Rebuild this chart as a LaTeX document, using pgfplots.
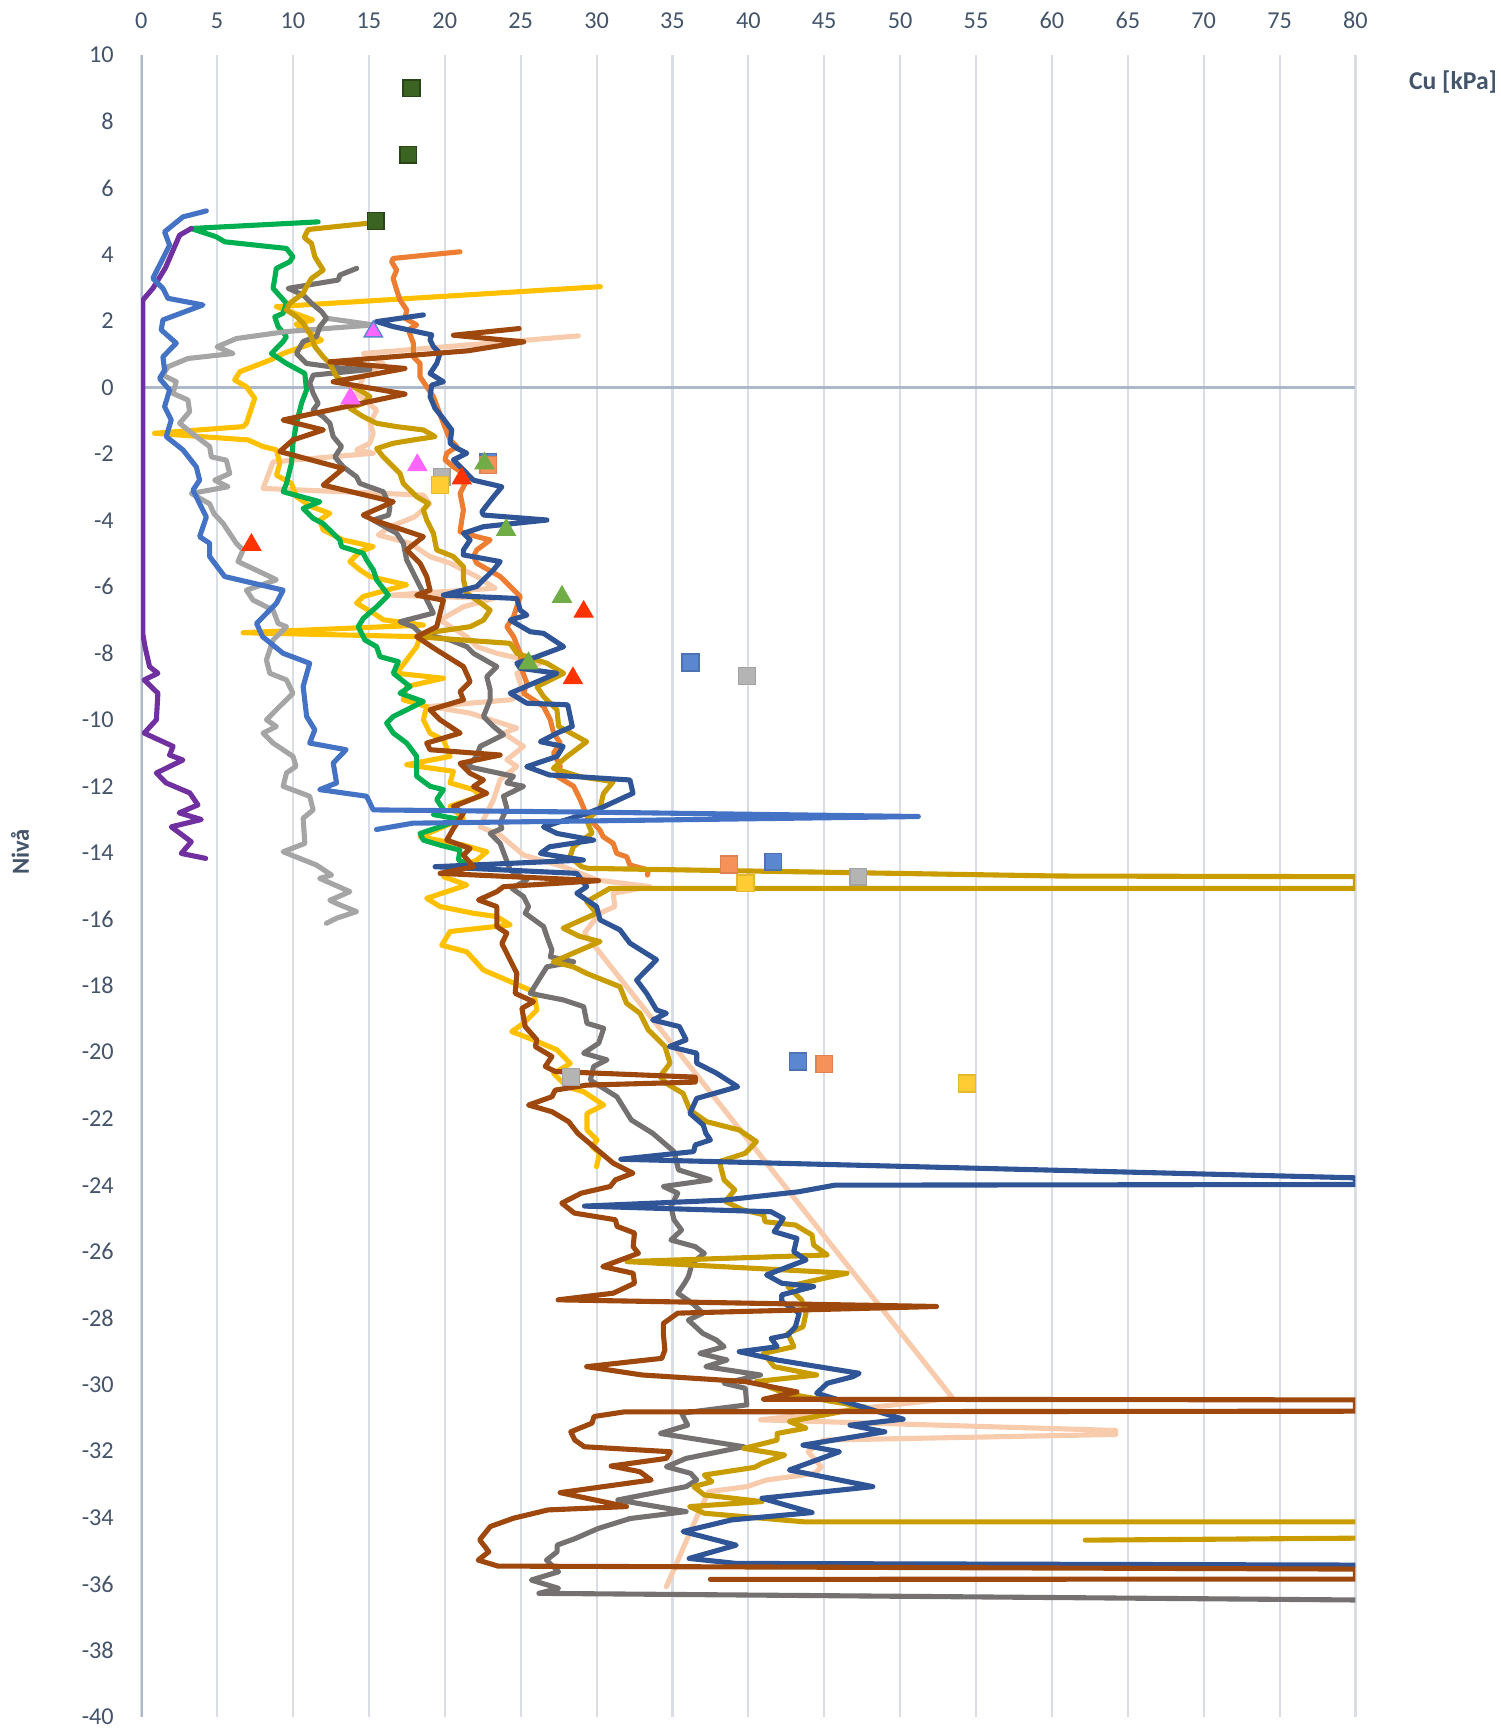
\documentclass[border=0pt]{standalone}
\usepackage{pgfplots}
\pgfplotsset{compat=1.18}
\usepackage{fontspec}
\setmainfont{Carlito}
\definecolor{txt}{HTML}{44546A}
\definecolor{gridc}{HTML}{D9DEE6}
\definecolor{axc}{HTML}{ADB9CA}
\definecolor{cpurple}{HTML}{7030A0}
\definecolor{cmblue}{HTML}{4472C4}
\definecolor{clgray}{HTML}{A5A5A5}
\definecolor{cgreen}{HTML}{00B050}
\definecolor{cyellow}{HTML}{FFC000}
\definecolor{corange}{HTML}{ED7D31}
\definecolor{cdblue}{HTML}{2F5597}
\definecolor{cbrown}{HTML}{9E480E}
\definecolor{cpeach}{HTML}{F8CBAD}
\definecolor{cdgray}{HTML}{767171}
\definecolor{cgold}{HTML}{C99C00}
\definecolor{cdgreen}{HTML}{3B6321}
\definecolor{cpink}{HTML}{FF66FF}
\definecolor{cred}{HTML}{FF3300}
\definecolor{cgtri}{HTML}{70AD47}
\definecolor{cbsq}{HTML}{5B86D0}
\definecolor{cosq}{HTML}{F4925A}
\definecolor{cgsq}{HTML}{B4B4B4}
\definecolor{cysq}{HTML}{FFCC33}
\begin{document}
\begin{tikzpicture}
\useasboundingbox (-1.412cm,-0.12cm) rectangle (13.598cm,17.17cm);
\begin{axis}[at={(0,0)}, anchor=south west, scale only axis,
 width=12.143cm, height=16.62cm,
 xmin=0, xmax=80, ymin=-40, ymax=10,
 axis line style={draw=none}, tick style={draw=none},
 xtick={0,5,10,15,20,25,30,35,40,45,50,55,60,65,70,75,80},
 xticklabels={0,5,10,15,20,25,30,35,40,45,50,55,60,65,70,75,80},
 ytick={-40,-38,-36,-34,-32,-30,-28,-26,-24,-22,-20,-18,-16,-14,-12,-10,-8,-6,-4,-2,0,2,4,6,8,10},
 yticklabels={-40,-38,-36,-34,-32,-30,-28,-26,-24,-22,-20,-18,-16,-14,-12,-10,-8,-6,-4,-2,0,2,4,6,8,10},
 xticklabel pos=right,
 xmajorgrids, grid style={gridc, line width=0.6pt},
 ticklabel style={font=\fontsize{6.9}{8}\selectfont, text=txt},
 xticklabel style={yshift=0.14cm},
 yticklabel style={xshift=-0.15cm},
 ln/.style={line width=1.45pt, line join=round, line cap=round, mark=none},
 sq/.style={only marks, mark=square*, mark size=2.4pt},
 tri/.style={only marks, mark=triangle*, mark size=3pt},
]
\draw[axc, line width=0.8pt] (axis cs:0,0) -- (axis cs:80,0);
\draw[axc, line width=0.8pt] (axis cs:0,-40) -- (axis cs:0,10);

% peach
\addplot[ln, cpeach] coordinates {(28.8,1.55)(14.63,1.02)(15.95,0.72)(14.63,0.32)(14.19,-0.18)(15.51,-0.68)(15.07,-1.08)(15.29,-1.38)(15.07,-1.68)(14.19,-1.88)(15.29,-1.98)(8.69,-2.24)(8.03,-3.04)(18.59,-3.24)(19.0,-3.5)(18.0,-3.9)(16.39,-4.19)(15.62,-4.44)(17.71,-4.69)(19.03,-5.09)(20.35,-5.29)(21.01,-5.44)(22.11,-5.69)(23.32,-6.04)(16.5,-6.25)(23.2,-6.35)(21.23,-6.6)(19.69,-7.0)(21.45,-7.5)(22.11,-7.8)(23.43,-8.0)(26.29,-8.3)(24.75,-8.6)(25.19,-9.2)(24.31,-9.4)(19.03,-9.6)(21.67,-9.8)(24.75,-10.25)(23.87,-10.4)(25.19,-10.8)(24.09,-11.2)(24.75,-11.4)(23.65,-11.8)(23.21,-12.4)(22.55,-13.0)(22.33,-13.22)(23.65,-13.47)(25.19,-14.07)(27.83,-14.42)(30.03,-14.82)(33.5,-15.02)(31.1,-15.22)(31.2,-15.62)(30.2,-15.82)(29.2,-16.42)(53.47,-30.41)(40.8,-31.06)(64.2,-31.38)(64.2,-31.5)(44.95,-31.67)(43.94,-32.02)(44.8,-32.47)(44.4,-32.67)(41.2,-32.87)(39.9,-33.07)(37.4,-33.22)(36.9,-33.67)(34.6,-36.08)};

% yellow
\addplot[ln, cyellow] coordinates {(30.25,3.03)(8.91,2.43)(11.3,2.03)(10.2,1.9)(11.88,1.42)(9.35,1.02)(8.47,0.82)(6.49,0.47)(6.16,0.22)(6.93,0.02)(7.48,-0.33)(6.93,-1.08)(6.71,-1.18)(0.88,-1.38)(7.04,-1.58)(8.03,-1.78)(8.91,-1.88)(9.13,-2.29)(8.91,-2.64)(9.9,-2.89)(10.23,-3.29)(11.22,-3.59)(12.43,-3.79)(11.77,-3.99)(11.99,-4.29)(12.87,-4.49)(13.31,-4.59)(15.29,-4.79)(14.41,-4.94)(13.75,-5.24)(14.41,-5.49)(15.07,-5.69)(17.49,-5.94)(14.63,-6.29)(14.19,-6.49)(15.29,-6.79)(15.95,-6.99)(18.59,-7.15)(6.71,-7.38)(18.37,-7.5)(18.15,-7.8)(17.49,-8.2)(16.83,-8.6)(19.91,-8.75)(17.49,-9.0)(17.27,-9.4)(18.81,-9.6)(18.59,-10.0)(19.03,-10.4)(19.91,-10.6)(20.35,-11.1)(17.49,-11.35)(20.57,-11.55)(20.35,-11.9)(21.89,-12.1)(22.33,-12.3)(20.35,-12.6)(21.23,-12.96)(19.5,-13.3)(18.37,-13.52)(21.23,-13.77)(22.77,-13.97)(22.11,-14.22)(19.91,-14.72)(21.45,-14.97)(18.81,-15.37)(19.69,-15.62)(21.89,-15.82)(23.43,-15.92)(24.31,-16.17)(20.35,-16.37)(19.8,-16.78)(21.45,-16.98)(22.55,-17.53)(24.09,-17.83)(25.85,-18.18)(26.07,-18.73)(25.19,-19.13)(24.41,-19.38)(25.85,-19.63)(27.39,-19.93)(28.27,-20.34)(27.17,-20.64)(28.05,-21.04)(29.15,-21.19)(30.47,-21.59)(29.37,-21.84)(29.37,-22.34)(30.03,-22.64)(29.7,-22.84)(30.2,-23.04)(30.0,-23.44)};

% green
\addplot[ln, cgreen] coordinates {(11.66,4.98)(3.3,4.78)(4.95,4.53)(5.5,4.38)(9.57,4.18)(10.0,3.93)(9.79,3.78)(8.9,3.58)(8.8,3.28)(8.69,2.98)(9.57,2.53)(9.35,2.23)(8.8,2.12)(9.02,1.83)(9.57,1.53)(9.35,1.38)(8.58,1.02)(9.57,0.72)(10.78,0.42)(10.89,-0.08)(10.56,-0.48)(10.23,-1.08)(10.0,-1.68)(9.9,-2.28)(9.57,-2.89)(9.35,-3.14)(11.77,-3.44)(10.67,-3.64)(11.33,-3.94)(11.99,-4.1)(13.09,-4.59)(13.2,-4.79)(14.63,-4.99)(14.85,-5.19)(15.29,-5.49)(15.51,-5.79)(16.28,-6.25)(15.51,-6.6)(14.63,-6.95)(14.3,-7.2)(14.74,-7.6)(15.51,-7.8)(15.73,-8.1)(16.94,-8.25)(16.61,-8.6)(17.71,-9.0)(17.05,-9.2)(18.59,-9.45)(16.61,-9.9)(16.17,-10.1)(16.61,-10.4)(17.49,-10.7)(18.15,-11.1)(18.15,-11.7)(19.03,-12.0)(19.91,-12.1)(19.47,-12.4)(19.91,-12.7)(19.25,-12.85)(21.0,-13.0)(19.69,-13.22)(18.37,-13.42)(18.59,-13.62)(19.69,-13.77)(21.0,-13.92)(20.9,-14.22)(21.45,-14.32)};

% orange
\addplot[ln, corange] coordinates {(21.0,4.08)(16.6,3.88)(16.5,3.78)(16.83,3.53)(16.6,3.28)(16.83,2.93)(17.05,2.63)(17.49,2.33)(17.38,2.08)(18.15,1.88)(17.6,1.73)(17.93,1.33)(17.93,0.92)(18.37,0.72)(18.37,0.32)(18.81,0.02)(19.25,-0.28)(19.58,-0.68)(19.91,-1.08)(20.35,-1.58)(20.79,-1.78)(20.13,-1.98)(20.02,-2.18)(20.57,-2.39)(21.23,-2.59)(21.34,-2.89)(21.01,-3.19)(21.23,-3.69)(21.12,-3.99)(21.01,-4.34)(22.11,-4.49)(22.99,-4.59)(22.11,-4.89)(21.89,-5.09)(22.11,-5.29)(23.65,-5.69)(24.53,-6.09)(24.97,-6.29)(24.53,-6.9)(24.09,-7.2)(24.53,-7.5)(24.97,-8.0)(25.08,-8.5)(25.41,-8.9)(25.19,-9.2)(26.51,-9.6)(26.95,-10.0)(27.17,-10.4)(27.61,-10.7)(27.17,-11.0)(27.61,-11.4)(27.39,-11.7)(28.49,-12.0)(28.92,-12.4)(29.37,-12.9)(30.22,-13.32)(30.44,-13.52)(31.1,-13.72)(31.33,-14.02)(31.98,-14.12)(32.2,-14.37)(33.41,-14.52)(33.35,-14.67)};

% light gray
\addplot[ln, clgray] coordinates {(12.2,2.08)(15.3,1.88)(9.57,1.68)(6.27,1.47)(5.0,1.22)(6.05,1.02)(3.08,0.87)(1.76,0.62)(1.43,0.37)(2.31,0.17)(2.09,-0.18)(3.08,-0.38)(3.19,-0.73)(2.53,-1.08)(3.63,-1.48)(4.51,-1.78)(4.62,-2.09)(5.61,-2.19)(5.83,-2.59)(4.84,-2.79)(5.72,-2.99)(3.3,-3.19)(4.5,-3.5)(4.8,-3.8)(5.39,-4.09)(6.27,-4.69)(6.71,-4.89)(6.38,-5.24)(8.47,-5.69)(8.9,-5.79)(6.93,-6.1)(7.37,-6.4)(8.69,-6.7)(9.02,-7.1)(9.57,-7.2)(8.69,-7.6)(8.25,-8.2)(8.47,-8.6)(9.57,-8.8)(10.0,-9.2)(8.9,-9.7)(8.25,-10.0)(8.9,-10.2)(8.03,-10.4)(8.69,-10.7)(10.0,-11.1)(10.2,-11.4)(9.57,-11.6)(9.35,-12.0)(11.1,-12.3)(11.33,-12.71)(10.67,-12.96)(10.78,-13.72)(9.35,-13.97)(11.55,-14.37)(12.54,-14.67)(11.76,-14.77)(13.75,-15.17)(12.43,-15.43)(13.09,-15.57)(14.19,-15.77)(12.87,-15.97)(12.21,-16.12)};

% purple
\addplot[ln, cpurple] coordinates {(3.3,4.78)(2.53,4.58)(1.6,3.6)(0.77,2.98)(0.11,2.63)(0.1,-7.4)(0.25,-7.8)(0.55,-8.4)(1.1,-8.6)(0.2,-8.8)(1.1,-9.2)(1.0,-10.0)(0.2,-10.4)(2.1,-10.8)(1.87,-11.06)(2.75,-11.21)(1.0,-11.6)(1.65,-11.9)(3.2,-12.2)(3.74,-12.56)(2.5,-12.8)(3.96,-13.0)(1.98,-13.22)(3.3,-13.67)(2.64,-14.02)(4.25,-14.17)};

% dark gray
\addplot[ln, cdgray] coordinates {(14.19,3.58)(13.09,3.38)(12.98,3.23)(9.68,2.98)(10.67,2.78)(11.22,2.53)(11.88,2.28)(12.21,2.08)(11.77,1.83)(11.55,1.53)(10.67,1.38)(10.23,1.02)(10.89,0.72)(13.31,0.57)(15.07,0.54)(11.33,0.37)(11.11,0.12)(11.33,-0.18)(11.66,-0.48)(11.33,-0.68)(11.99,-0.88)(12.43,-1.08)(12.65,-1.48)(13.2,-1.78)(12.76,-2.09)(13.31,-2.39)(14.19,-2.69)(14.41,-2.89)(15.95,-3.14)(16.39,-3.59)(16.3,-3.84)(15.29,-3.99)(16.83,-4.39)(17.27,-4.69)(17.49,-5.19)(17.93,-5.59)(18.37,-5.99)(18.81,-6.39)(19.25,-6.79)(17.05,-7.05)(17.93,-7.2)(18.37,-7.4)(20.35,-7.6)(21.45,-7.8)(21.89,-8.0)(23.43,-8.4)(22.77,-8.7)(22.99,-9.1)(22.99,-9.4)(22.55,-9.9)(23.21,-10.2)(23.87,-10.45)(22.33,-10.8)(22.11,-11.1)(21.45,-11.4)(24.53,-11.7)(24.09,-11.9)(25.19,-12.0)(23.87,-12.3)(24.09,-12.66)(23.65,-13.1)(23.76,-13.27)(22.99,-13.42)(23.65,-13.72)(24.31,-14.52)(25.41,-14.82)(24.42,-15.07)(25.19,-15.32)(25.52,-15.62)(25.3,-15.82)(26.51,-16.22)(26.73,-16.52)(27.06,-16.93)(26.95,-17.13)(28.49,-17.28)(26.73,-17.43)(25.63,-18.23)(27.83,-18.43)(29.15,-18.63)(29.37,-19.13)(30.47,-19.28)(30.14,-19.73)(29.15,-20.03)(30.69,-20.23)(29.81,-20.43)(29.59,-20.84)(31.34,-21.34)(32.29,-22.04)(33.7,-22.44)(35.1,-22.99)(35.4,-23.54)(37.5,-23.84)(34.4,-24.04)(35.35,-24.24)(34.9,-24.64)(35.1,-25.04)(35.6,-25.35)(34.9,-25.65)(36.5,-25.85)(37.1,-26.05)(36.3,-26.35)(36.05,-26.75)(35.8,-26.95)(35.35,-27.25)(36.3,-27.55)(37.0,-27.85)(36.05,-28.06)(37.0,-28.46)(37.9,-28.66)(38.4,-28.86)(36.8,-29.06)(38.6,-29.26)(37.2,-29.46)(40.8,-29.71)(38.4,-29.96)(39.8,-30.11)(39.9,-30.61)(35.6,-30.86)(36.0,-31.22)(34.2,-31.47)(39.7,-31.87)(35.9,-32.22)(34.6,-32.47)(36.2,-32.67)(36.6,-32.87)(35.9,-33.07)(31.4,-33.47)(35.9,-33.82)(32.2,-34.03)(30.1,-34.33)(28.6,-34.63)(27.4,-34.83)(27.4,-35.03)(26.7,-35.28)(27.5,-35.63)(25.7,-35.88)(27.5,-36.13)(26.2,-36.28)(80,-36.48)};

% gold
\addplot[ln, cgold] coordinates {(15.4,4.96)(11.0,4.75)(10.74,4.51)(11.22,4.33)(11.44,3.93)(11.99,3.53)(11.22,3.28)(10.89,3.03)(10.67,2.83)(9.79,2.53)(9.57,2.33)(10.23,2.13)(10.67,1.93)(11.11,1.63)(11.44,1.23)(11.99,0.92)(12.43,0.72)(12.87,0.32)(13.53,0.12)(14.41,-0.08)(15.07,-0.28)(14.63,-0.48)(13.75,-0.63)(14.63,-0.88)(15.51,-1.08)(16.83,-1.18)(18.59,-1.28)(19.36,-1.48)(17.93,-1.58)(16.61,-1.68)(15.51,-1.84)(15.95,-2.09)(16.61,-2.39)(17.05,-2.59)(17.27,-2.89)(18.15,-3.29)(18.92,-3.49)(18.59,-3.69)(18.81,-3.99)(19.25,-4.39)(19.47,-4.89)(20.57,-5.09)(21.23,-5.39)(21.23,-5.79)(21.45,-6.19)(22.11,-6.4)(22.99,-6.7)(22.55,-7.0)(21.67,-7.2)(18.59,-7.4)(18.15,-7.5)(24.31,-7.7)(24.75,-8.0)(26.73,-8.3)(27.83,-8.6)(26.07,-9.0)(26.51,-9.3)(27.39,-9.7)(27.5,-10.2)(29.35,-10.66)(28.03,-11.11)(27.15,-11.46)(28.9,-11.71)(31.1,-11.86)(30.45,-12.22)(30.23,-12.67)(29.35,-13.02)(29.7,-13.41)(28.47,-13.82)(28.25,-14.12)(29.02,-14.42)(29.45,-14.47)(60.5,-14.7)(80,-14.72)(80,-15.07)(30.88,-15.07)(29.35,-15.47)(30.0,-15.82)(27.8,-16.27)(28.9,-16.52)(30.23,-16.67)(27.15,-17.28)(28.47,-17.43)(29.35,-17.63)(31.54,-18.03)(31.98,-18.53)(32.86,-18.83)(33.41,-19.33)(34.51,-19.83)(34.84,-20.33)(34.18,-20.73)(34.6,-20.94)(35.7,-21.24)(36.15,-21.74)(37.25,-22.09)(39.4,-22.34)(40.53,-22.69)(39.8,-23.04)(38.1,-23.29)(38.4,-23.84)(39.1,-24.14)(38.5,-24.49)(39.6,-24.74)(41.0,-24.89)(41.1,-25.1)(43.1,-25.2)(44.2,-25.5)(44.3,-25.8)(45.2,-26.1)(32.0,-26.3)(46.5,-26.65)(44.5,-26.85)(42.6,-27.05)(43.5,-27.45)(43.8,-27.85)(43.6,-28.26)(42.6,-28.46)(43.0,-28.86)(41.0,-29.06)(41.7,-29.46)(44.5,-29.71)(40.5,-29.91)(42.4,-30.26)(47.7,-30.68)(42.7,-31.11)(43.8,-31.31)(41.9,-31.47)(41.9,-31.67)(39.7,-31.92)(42.4,-32.12)(40.9,-32.37)(40.4,-32.49)(37.1,-32.72)(37.6,-32.92)(36.4,-33.07)(37.1,-33.32)(40.9,-33.52)(36.13,-33.67)(37.1,-33.87)(43.7,-34.13)(80,-34.13)};
\addplot[ln, cgold] coordinates {(62.2,-34.68)(80,-34.62)};

% dark blue
\addplot[ln, cdblue] coordinates {(18.59,2.18)(15.51,1.98)(16.6,1.83)(19.14,1.58)(19.03,1.43)(19.25,1.23)(19.69,1.02)(19.47,0.72)(19.03,0.42)(19.91,0.17)(19.14,0.07)(19.03,-0.28)(19.36,-0.63)(19.8,-0.88)(20.13,-1.08)(20.46,-1.28)(20.35,-1.68)(20.79,-1.83)(21.45,-1.98)(20.57,-2.18)(21.89,-2.79)(23.76,-2.99)(23.21,-3.29)(22.44,-3.74)(22.55,-3.84)(26.73,-3.99)(22.55,-4.19)(21.23,-4.39)(21.67,-4.59)(21.23,-4.89)(21.23,-5.04)(23.65,-5.24)(23.21,-5.49)(22.55,-5.79)(22.11,-5.99)(19.91,-6.25)(24.75,-6.35)(24.97,-6.7)(25.41,-6.85)(24.31,-7.0)(25.63,-7.35)(26.51,-7.4)(27.83,-7.8)(26.07,-8.1)(24.75,-8.3)(24.97,-8.45)(27.39,-8.6)(24.31,-9.2)(25.4,-9.5)(28.1,-9.55)(28.4,-10.2)(27.4,-10.4)(26.3,-10.66)(27.8,-10.8)(27.4,-11.1)(25.4,-11.41)(26.9,-11.66)(32.2,-11.81)(32.4,-12.21)(30.45,-12.62)(29.35,-12.82)(26.5,-13.22)(27.4,-13.42)(29.8,-13.62)(26.9,-13.82)(26.3,-14.02)(29.13,-14.22)(19.36,-14.42)(28.7,-14.62)(29.35,-15.02)(28.7,-15.22)(29.35,-15.42)(30.0,-15.62)(30.23,-16.02)(31.54,-16.32)(32.2,-16.72)(33.95,-17.22)(32.64,-17.83)(33.3,-18.23)(33.95,-18.73)(34.6,-18.83)(33.7,-19.03)(35.46,-19.23)(35.9,-19.63)(34.8,-19.83)(36.6,-20.03)(36.6,-20.33)(37.9,-20.63)(39.3,-21.04)(36.6,-21.39)(36.15,-21.84)(37.03,-22.19)(37.2,-22.44)(37.5,-22.64)(36.5,-22.79)(36.4,-22.99)(31.6,-23.22)(80,-23.78)(80,-23.98)(45.7,-24.0)(43.3,-24.2)(38.4,-24.45)(29.2,-24.63)(41.5,-24.8)(42.3,-25.0)(41.7,-25.4)(43.2,-25.6)(42.99,-26.0)(43.8,-26.25)(41.2,-26.7)(42.2,-26.95)(44.3,-27.05)(42.2,-27.3)(42.2,-27.5)(43.35,-27.85)(43.1,-28.26)(42.6,-28.51)(41.5,-28.61)(41.9,-28.86)(39.4,-29.01)(41.9,-29.26)(47.3,-29.66)(46.9,-29.76)(45.2,-29.96)(44.5,-30.26)(50.2,-31.04)(46.7,-31.22)(48.99,-31.42)(43.6,-31.82)(46.0,-32.02)(42.7,-32.57)(48.2,-33.07)(40.9,-33.42)(44.2,-33.85)(38.9,-34.07)(35.7,-34.42)(39.2,-34.83)(36.1,-35.23)(39.2,-35.38)(80,-35.43)};

% brown
\addplot[ln, cbrown] coordinates {(24.9,1.77)(20.57,1.57)(25.2,1.37)(21.5,1.1)(12.43,0.77)(17.38,0.57)(12.65,0.17)(17.38,-0.2)(9.35,-0.98)(12.0,-1.28)(10.0,-1.58)(9.13,-1.93)(13.31,-2.44)(11.99,-2.94)(16.61,-3.44)(14.63,-3.84)(15.29,-3.99)(18.59,-4.49)(17.49,-4.89)(18.37,-5.29)(18.81,-5.69)(19.03,-6.1)(18.15,-6.25)(19.91,-6.4)(19.47,-7.2)(18.15,-7.5)(19.47,-7.9)(21.23,-8.4)(21.67,-8.85)(21.01,-9.15)(21.23,-9.4)(19.03,-9.7)(19.69,-10.0)(21.01,-10.4)(18.81,-10.7)(19.03,-10.9)(23.65,-11.06)(21.01,-11.31)(21.67,-11.61)(22.55,-11.81)(21.89,-12.01)(22.77,-12.21)(20.57,-12.61)(21.23,-12.81)(20.57,-13.27)(20.13,-13.62)(21.67,-13.87)(21.23,-14.07)(21.89,-14.42)(19.69,-14.62)(30.13,-14.84)(23.87,-15.02)(23.43,-15.17)(22.22,-15.42)(23.43,-15.62)(23.43,-16.22)(24.09,-16.42)(23.76,-16.73)(24.31,-17.23)(24.75,-17.63)(24.64,-18.23)(25.85,-18.48)(25.08,-18.68)(25.3,-19.23)(26.07,-19.63)(25.96,-19.83)(27.06,-20.13)(26.62,-20.43)(27.28,-20.58)(36.5,-20.75)(36.5,-20.9)(29.35,-20.99)(27.28,-21.14)(27.06,-21.34)(25.52,-21.59)(27.06,-21.79)(28.16,-22.09)(28.76,-22.44)(29.93,-22.89)(31.1,-23.34)(32.4,-23.64)(31.24,-23.84)(30.9,-24.04)(29.0,-24.24)(27.71,-24.54)(28.53,-24.84)(31.24,-25.04)(31.35,-25.24)(32.5,-25.44)(32.41,-25.85)(32.76,-26.05)(30.41,-26.45)(32.41,-26.65)(32.5,-26.95)(31.1,-27.25)(27.47,-27.45)(52.4,-27.65)(35.35,-27.85)(34.4,-28.16)(34.4,-28.46)(34.5,-28.96)(34.3,-29.21)(29.35,-29.46)(32.99,-29.71)(39.8,-29.91)(43.2,-30.22)(41.0,-30.44)(80,-30.46)(80,-30.8)(31.84,-30.82)(29.83,-30.96)(29.7,-31.16)(28.3,-31.42)(28.57,-31.67)(29.2,-31.87)(34.87,-32.02)(34.6,-32.22)(30.96,-32.45)(32.85,-32.62)(33.6,-32.87)(27.6,-33.25)(31.97,-33.67)(26.8,-33.77)(24.53,-34.02)(23.0,-34.27)(22.3,-34.67)(22.9,-35.03)(22.2,-35.28)(23.5,-35.46)(80,-35.55)(80,-35.85)(37.5,-35.86)};

% medium blue
\addplot[ln, cmblue] coordinates {(4.29,5.31)(2.75,5.13)(1.54,4.68)(1.87,4.28)(0.77,3.28)(1.43,2.98)(1.76,2.68)(4.07,2.48)(1.43,2.03)(1.32,1.73)(2.31,1.33)(1.43,0.92)(1.54,0.52)(1.21,0.27)(1.87,-0.08)(1.54,-0.58)(1.98,-0.98)(1.65,-1.48)(2.75,-1.88)(3.63,-2.39)(3.85,-2.79)(3.41,-3.09)(3.8,-3.45)(4.29,-3.9)(3.85,-4.49)(4.51,-4.69)(4.51,-5.09)(5.5,-5.69)(9.35,-6.1)(8.9,-6.5)(7.6,-7.1)(8.0,-7.5)(9.35,-8.0)(11.1,-8.3)(10.67,-9.0)(10.9,-9.9)(11.44,-10.3)(11.1,-10.7)(13.5,-10.9)(12.65,-11.3)(12.87,-11.9)(11.76,-12.1)(14.85,-12.3)(15.29,-12.71)(30,-12.78)(51.2,-12.91)(30,-13.04)(17.9,-13.11)(15.5,-13.3)};

% markers
\addplot[sq, draw=cdgreen!70!black, fill=cdgreen] coordinates {(17.8,9.0)(17.6,7.0)(15.45,5.0)};
\addplot[tri, draw=cbsq, fill=cpink] coordinates {(15.29,1.68)};
\addplot[tri, draw=cpink, fill=cpink] coordinates {(13.79,-0.33)(18.19,-2.34)};
\addplot[sq, draw=cbsq!85!black, fill=cbsq] coordinates {(22.87,-2.25)(36.19,-8.28)(41.64,-14.27)(43.28,-20.28)};
\addplot[sq, draw=cosq!90!black, fill=cosq] coordinates {(22.87,-2.34)(38.72,-14.35)(45.0,-20.36)};
\addplot[sq, draw=cgsq!90!black, fill=cgsq] coordinates {(19.8,-2.69)(39.9,-8.68)(47.24,-14.72)(28.31,-20.74)};
\addplot[sq, draw=cysq!90!black, fill=cysq] coordinates {(19.69,-2.93)(39.82,-14.92)(54.42,-20.94)};
\addplot[tri, draw=cred, fill=cred] coordinates {(7.26,-4.74)(21.12,-2.74)(29.15,-6.75)(28.44,-8.75)};
\addplot[tri, draw=cgtri, fill=cgtri] coordinates {(22.61,-2.29)(24.04,-4.29)(27.72,-6.3)(25.52,-8.3)};
\end{axis}
\node[font=\bfseries\fontsize{7.3}{9}\selectfont, text=txt] at (13.118cm,16.35cm) {Cu [kPa]};
\node[font=\bfseries\fontsize{7}{9}\selectfont, text=txt, rotate=90] at (-1.212cm,8.65cm) {Nivå};
\end{tikzpicture}
\end{document}
